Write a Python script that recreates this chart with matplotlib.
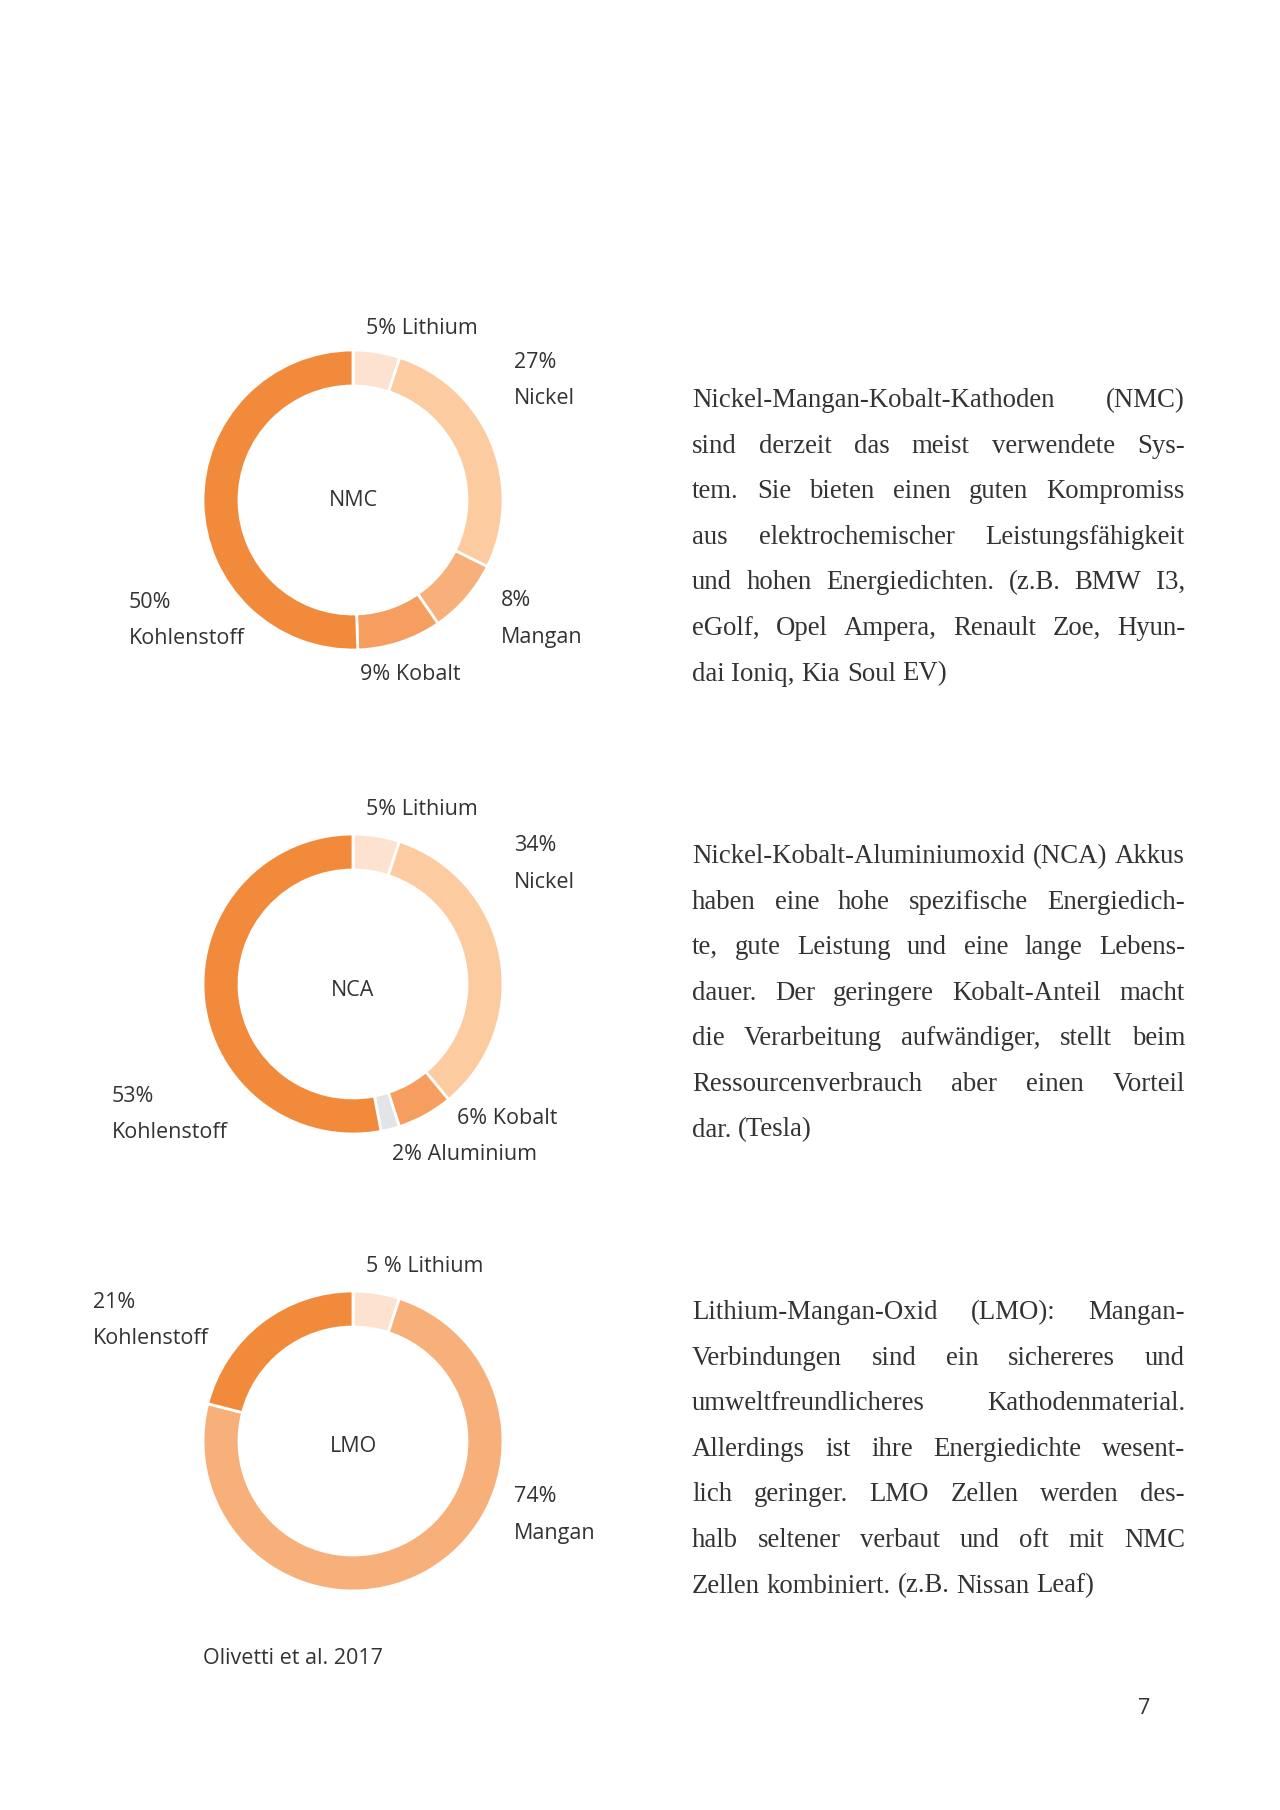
import matplotlib
matplotlib.use("Agg")
import matplotlib.pyplot as plt

# ---------------- data ----------------
nmc_parts = ["Lithium", "Nickel", "Mangan", "Kobalt", "Kohlenstoff"]
nmc_values = [5, 27, 8, 9, 50]
nca_parts = ["Lithium", "Nickel", "Kobalt", "Aluminium", "Kohlenstoff"]
nca_values = [5, 34, 6, 2, 53]
lmo_parts = ["Lithium", "Mangan", "Kohlenstoff"]
lmo_values = [5, 74, 21]

nmc_labels = [["5% Lithium"], ["27%", "Nickel"], ["8%", "Mangan"], ["9% Kobalt"], ["50%", "Kohlenstoff"]]
nca_labels = [["5% Lithium"], ["34%", "Nickel"], ["6% Kobalt"], ["2% Aluminium"], ["53%", "Kohlenstoff"]]
lmo_labels = [["5 % Lithium"], ["74%", "Mangan"], ["21%", "Kohlenstoff"]]

nmc_text = [
    "Nickel-Mangan-Kobalt-Kathoden (NMC)",
    "sind derzeit das meist verwendete Sys-",
    "tem. Sie bieten einen guten Kompromiss",
    "aus elektrochemischer Leistungsfähigkeit",
    "und hohen Energiedichten. (z.B. BMW I3,",
    "eGolf, Opel Ampera, Renault Zoe, Hyun-",
    "dai Ioniq, Kia Soul EV)",
]
nca_text = [
    "Nickel-Kobalt-Aluminiumoxid (NCA) Akkus",
    "haben eine hohe spezifische Energiedich-",
    "te, gute Leistung und eine lange Lebens-",
    "dauer. Der geringere Kobalt-Anteil macht",
    "die Verarbeitung aufwändiger, stellt beim",
    "Ressourcenverbrauch aber einen Vorteil",
    "dar. (Tesla)",
]
lmo_text = [
    "Lithium-Mangan-Oxid (LMO): Mangan-",
    "Verbindungen sind ein sichereres und",
    "umweltfreundlicheres Kathodenmaterial.",
    "Allerdings ist ihre Energiedichte wesent-",
    "lich geringer. LMO Zellen werden des-",
    "halb seltener verbaut und oft mit NMC",
    "Zellen kombiniert. (z.B. Nissan Leaf)",
]
source_text = "Olivetti et al. 2017"
page_number = "7"

# ---------------- style ----------------
colors = {
    "Lithium": "#FDE3CF",
    "Nickel": "#FDCBA0",
    "Mangan": "#F8B07B",
    "Kobalt": "#F59E5F",
    "Kohlenstoff": "#F28A3B",
    "Aluminium": "#E2E4E7",
}
TXT = "#333333"
LABEL_FONT = ["Open Sans", "DejaVu Sans"]
BODY_FONT = ["Liberation Serif", "DejaVu Serif"]
LABEL_SIZE = 15.5
LABEL_STEP = 37

W, H = 1280, 1810
fig = plt.figure(figsize=(W / 100, H / 100), dpi=100)
ax = fig.add_axes([0, 0, 1, 1])


def Y(y):  # pixel (top-down) -> data (bottom-up)
    return H - y


R_OUT, RING = 150, 36

donuts = [
    dict(name="NMC", parts=nmc_parts, values=nmc_values, labels=nmc_labels,
         center=(353, 500), name_pos=(353, 501),
         label_pos=[(366, 329), (514, 362), (501, 600), (360, 674), (129, 602)]),
    dict(name="NCA", parts=nca_parts, values=nca_values, labels=nca_labels,
         center=(353, 984), name_pos=(353, 991),
         label_pos=[(366, 810), (514, 846), (457, 1118), (392, 1154), (112, 1096)]),
    dict(name="LMO", parts=lmo_parts, values=lmo_values, labels=lmo_labels,
         center=(353, 1441), name_pos=(353, 1447),
         label_pos=[(366, 1266), (514, 1497), (93, 1302)]),
]

for d in donuts:
    cx, cy = d["center"]
    ax.pie(d["values"], colors=[colors[p] for p in d["parts"]],
           center=(cx, Y(cy)), radius=R_OUT, startangle=90, counterclock=False,
           wedgeprops=dict(width=RING, edgecolor="white", linewidth=2))
    nx, ny = d["name_pos"]
    ax.text(nx, Y(ny), d["name"], ha="center", va="center", fontsize=LABEL_SIZE,
            family=LABEL_FONT, color=TXT)
    for lines, (lx, ly) in zip(d["labels"], d["label_pos"]):
        for k, ln in enumerate(lines):
            ax.text(lx, Y(ly + k * LABEL_STEP), ln, ha="left", va="center",
                    fontsize=LABEL_SIZE, family=LABEL_FONT, color=TXT)

ax.text(203, Y(1658), source_text, ha="left", va="center", fontsize=LABEL_SIZE,
        family=LABEL_FONT, color=TXT)
ax.text(1144, Y(1709), page_number, ha="center", va="center", fontsize=LABEL_SIZE,
        family=LABEL_FONT, color=TXT)

ax.set_xlim(0, W)
ax.set_ylim(0, H)
ax.set_aspect("equal")
ax.axis("off")

# ---------------- justified body text ----------------
renderer = fig.canvas.get_renderer()
X0, X1 = 692, 1185
BLOCK_W = X1 - X0


def tw(s, size):
    t = ax.text(0, 0, s, fontsize=size, family=BODY_FONT)
    w = t.get_window_extent(renderer).width
    t.remove()
    return w


ref = 10.0
nat = []
for para in (nmc_text, nca_text, lmo_text):
    for line in para[:-1]:
        nat.append(tw(line, ref))
BODY_SIZE = min(22.5, ref * BLOCK_W * 0.99 / max(nat))
space_w = tw("a a", BODY_SIZE) - tw("aa", BODY_SIZE)


def draw_paragraph(lines, y0, step):
    for i, line in enumerate(lines):
        words = line.split(" ")
        widths = [tw(w_, BODY_SIZE) for w_ in words]
        last = i == len(lines) - 1
        if last or len(words) == 1:
            gap = space_w
        else:
            gap = (BLOCK_W - sum(widths)) / (len(words) - 1)
        x = X0
        yb = Y(y0 + i * step)
        for w_, wd in zip(words, widths):
            ax.text(x, yb, w_, fontsize=BODY_SIZE, family=BODY_FONT, color=TXT,
                    ha="left", va="baseline")
            x += wd + gap


draw_paragraph(nmc_text, 407, 45.6)
draw_paragraph(nca_text, 863, 45.6)
draw_paragraph(lmo_text, 1319, 45.6)

fig.savefig("out.png", dpi=100, facecolor="white")
